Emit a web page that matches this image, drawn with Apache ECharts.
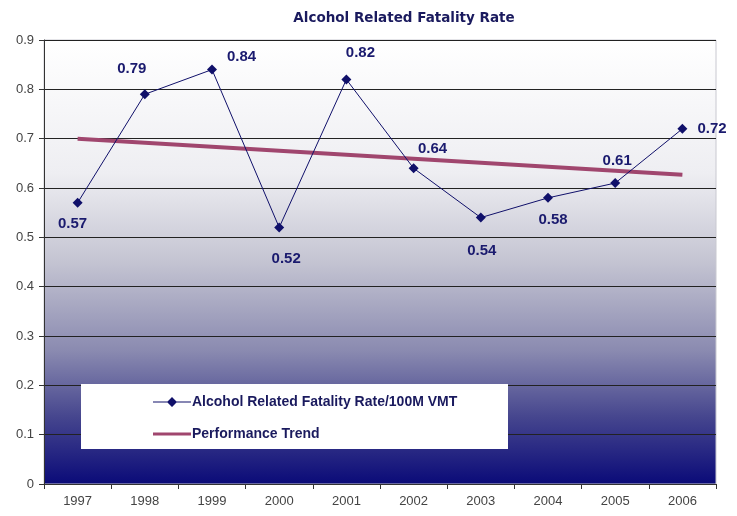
<!DOCTYPE html>
<html>
<head>
<meta charset="utf-8">
<script src="https://cdn.jsdelivr.net/npm/echarts@6/dist/echarts.min.js"></script>
<style>
  html, body { margin: 0; padding: 0; background: #fff; }
  #main { width: 737px; height: 516px; }
</style>
</head>
<body>
<div id="main"></div>
<script>
// data
var years = ['1997', '1998', '1999', '2000', '2001', '2002', '2003', '2004', '2005', '2006'];
var rate = [0.57, 0.79, 0.84, 0.52, 0.82, 0.64, 0.54, 0.58, 0.61, 0.72];
var trend = [0.70, null, null, null, null, null, null, null, null, 0.627];

// where each value label sits relative to its marker
var labelPlace = [
  ['bottom', [-5, 1]], ['top', [-13, -5]], ['right', [2, -13]], ['bottom', [7, 11]],
  ['top', [14, -6]], ['top', [19, 1]], ['bottom', [1, 13]], ['bottom', [5, 1]],
  ['top', [2, -2]], ['right', [2, 0]]
];

var rateData = rate.map(function (v, i) {
  return { value: v, label: { position: labelPlace[i][0], offset: labelPlace[i][1] } };
});

var font = 'Liberation Sans, Arial, sans-serif';
var chart = echarts.init(document.getElementById('main'));

chart.setOption({
  animation: false,
  title: {
    text: 'Alcohol Related Fatality Rate',
    left: 399, top: 6, textAlign: 'center',
    textStyle: { fontFamily: 'DejaVu Sans', fontSize: 13.5, fontWeight: 'bold', color: '#1a1a5e' }
  },
  grid: { left: 44, right: 21, top: 40, bottom: 32,
    show: true, borderWidth: 1, borderColor: '#c8c8d0',
    backgroundColor: new echarts.graphic.LinearGradient(0, 0, 0, 1, [
      { offset: 0, color: '#ffffff' },
      { offset: 0.3, color: '#eeeef2' },
      { offset: 0.5, color: '#c4c4d2' },
      { offset: 0.7, color: '#8a8ab0' },
      { offset: 0.85, color: '#45458e' },
      { offset: 1, color: '#0a0a78' }
    ])
  },
  graphic: [{
    type: 'rect', z: 5,
    shape: { x: 81, y: 384, width: 427, height: 65 },
    style: { fill: '#ffffff' }
  }],
  legend: {
    orient: 'vertical', left: 148, top: 390, itemGap: 18, z: 6,
    itemWidth: 38, itemHeight: 12,
    textStyle: { fontFamily: font, fontSize: 14, fontWeight: 'bold', color: '#1a1a5e', padding: [0, 0, 0, -4] },
    data: [
      { name: 'Alcohol Related Fatality Rate/100M VMT', icon: 'path://M0,5.5L38,5.5L38,6.5L0,6.5Z M19,1L24,6L19,11L14,6Z', itemStyle: { color: '#10106a' } },
      { name: 'Performance Trend', icon: 'path://M0,4.5L38,4.5L38,7.5L0,7.5Z', itemStyle: { color: '#a0466e' } }
    ]
  },
  xAxis: {
    type: 'category', data: years, boundaryGap: true,
    axisLine: { lineStyle: { color: '#333', width: 1 } },
    axisTick: { show: true, length: 5, lineStyle: { color: '#333' } },
    axisLabel: { fontFamily: font, fontSize: 13, color: '#444', margin: 11 }
  },
  yAxis: {
    type: 'value', min: 0, max: 0.9, interval: 0.1,
    axisLine: { show: true, lineStyle: { color: '#333' } },
    axisTick: { show: true, length: 5, lineStyle: { color: '#333' } },
    axisLabel: { fontFamily: font, fontSize: 13, color: '#444', margin: 10,
      formatter: function (v) { return v === 0 ? '0' : v.toFixed(1); } },
    splitLine: { lineStyle: { color: '#222', width: 1 } }
  },
  series: [
    {
      name: 'Alcohol Related Fatality Rate/100M VMT',
      type: 'line', data: rateData, z: 3,
      symbol: 'diamond', symbolSize: 10,
      lineStyle: { color: '#10106a', width: 1 },
      itemStyle: { color: '#10106a' },
      label: { show: true, fontFamily: font, fontSize: 15, fontWeight: 'bold', color: '#1a1a6e', distance: 8 }
    },
    {
      name: 'Performance Trend',
      type: 'line', data: trend, connectNulls: true, z: 2,
      symbol: 'none',
      lineStyle: { color: '#a0466e', width: 4 },
      itemStyle: { color: '#a0466e' }
    }
  ]
});
</script>
</body>
</html>
